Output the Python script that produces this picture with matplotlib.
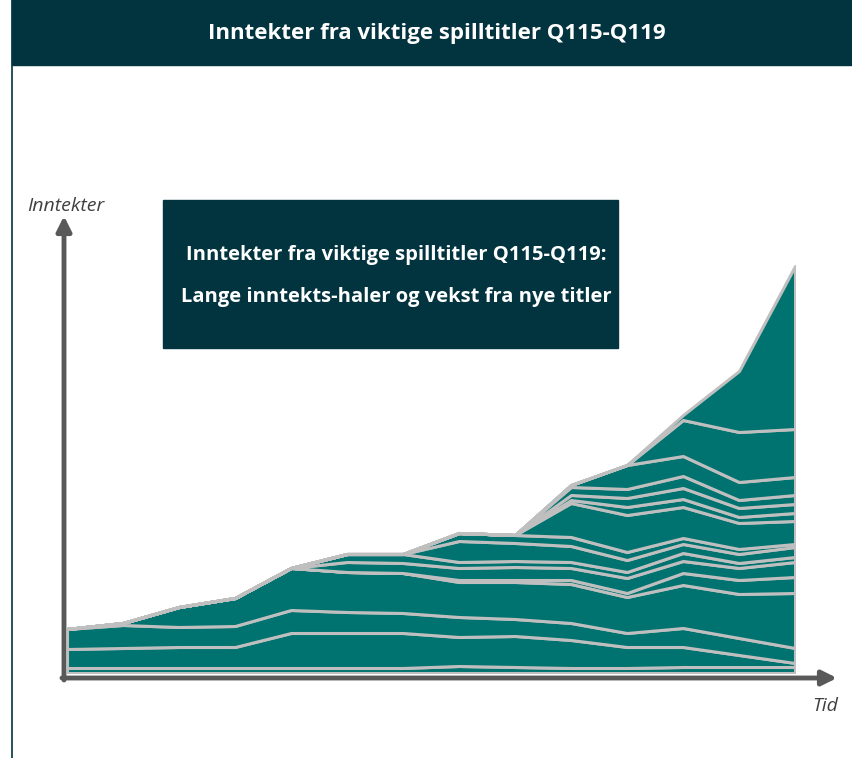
import matplotlib
matplotlib.use("Agg")
import matplotlib.pyplot as plt
from matplotlib.patches import Rectangle

plt.rcParams['font.family'] = ['Open Sans', 'DejaVu Sans']

# Quarters Q1-15 .. Q2-18 (14 points), revenue per title, bottom to top
quarters = list(range(14))
title_01 = [5, 5, 5, 5, 5, 5, 5, 7, 6, 5, 5, 6, 6, 6]
title_02 = [19, 20, 21, 21, 35, 35, 35, 29, 31, 28, 21, 20, 12, 4]
title_03 = [20, 23, 20, 21, 23, 21, 20, 20, 17, 17, 14, 19, 17, 15]
title_04 = [0, 2, 20, 28, 42, 40, 40, 35, 37, 39, 36, 43, 44, 55]
title_05 = [0, 0, 0, 0, 0, 0, 0, 2, 2, 4, 4, 12, 14, 16]
title_06 = [0, 0, 0, 0, 0, 10, 10, 12, 13, 12, 15, 12, 12, 15]
title_07 = [0, 0, 0, 0, 0, 8, 9, 6, 6, 6, 6, 8, 5, 5]
title_08 = [0, 0, 0, 0, 0, 0, 0, 21, 18, 16, 12, 9, 9, 10]
title_09 = [0, 0, 0, 0, 0, 0, 0, 8, 8, 9, 8, 6, 5, 3]
title_10 = [0, 0, 0, 0, 0, 0, 0, 0, 0, 34, 37, 31, 26, 23]
title_11 = [0, 0, 0, 0, 0, 0, 0, 0, 0, 3, 8, 8, 6, 8]
title_12 = [0, 0, 0, 0, 0, 0, 0, 0, 0, 5, 9, 11, 9, 9]
title_13 = [0, 0, 0, 0, 0, 0, 0, 0, 0, 8, 9, 12, 8, 9]
title_14 = [0, 0, 0, 0, 0, 0, 0, 0, 0, 2, 24, 20, 18, 18]
title_15 = [0, 0, 0, 0, 0, 0, 0, 0, 0, 0, 0, 36, 50, 48]
title_16 = [0, 0, 0, 0, 0, 0, 0, 0, 0, 0, 0, 5, 61, 163]

titles = [title_01, title_02, title_03, title_04, title_05, title_06, title_07, title_08,
          title_09, title_10, title_11, title_12, title_13, title_14, title_15, title_16]

header = "Inntekter fra viktige spilltitler Q115-Q119"
box_lines = ["Inntekter fra viktige spilltitler Q115-Q119:",
             "Lange inntekts-haler og vekst fra nye titler"]

W, H = 852, 758
dark = '#02343f'
teal = '#007370'
edge = '#bfbfbf'
axis_gray = '#595959'

fig = plt.figure(figsize=(W / 100, H / 100), dpi=100)

# overlay in pixel coordinates for header, box and arrows
ov = fig.add_axes([0, 0, 1, 1])
ov.set_xlim(0, W)
ov.set_ylim(H, 0)
ov.axis('off')

ov.add_patch(Rectangle((12, 0), W - 12, 65, color=dark, zorder=1))
ov.plot([12, 12], [0, H], color=dark, lw=1.2, zorder=1)
ov.text(437, 34, header, color='white', fontsize=16, fontweight='bold',
        ha='center', va='center')

# data area
ax = fig.add_axes([67 / W, 1 - 673 / H, (795 - 67) / W, (673 - 185) / H])
ax.stackplot(quarters, *titles, colors=[teal] * len(titles),
             edgecolor=edge, linewidth=2.2)
ax.set_xlim(0, 13)
ax.set_ylim(0, 488)
ax.axis('off')

# axes arrows on top
ov2 = fig.add_axes([0, 0, 1, 1], zorder=5)
ov2.set_xlim(0, W)
ov2.set_ylim(H, 0)
ov2.axis('off')
ov2.patch.set_alpha(0)
ov2.annotate('', xy=(837, 678), xytext=(62, 678),
             arrowprops=dict(arrowstyle='-|>', color=axis_gray, lw=3.5,
                             mutation_scale=22, shrinkA=0, shrinkB=0))
ov2.annotate('', xy=(64, 216), xytext=(64, 680),
             arrowprops=dict(arrowstyle='-|>', color=axis_gray, lw=3.5,
                             mutation_scale=22, shrinkA=0, shrinkB=0))
ov2.text(27, 206, 'Inntekter', fontsize=14, style='italic', color='#404040',
         ha='left', va='center')
ov2.text(825, 706, 'Tid', fontsize=14, style='italic', color='#404040',
         ha='center', va='center')

ov2.add_patch(Rectangle((163, 200), 455, 148, color=dark, zorder=2))
ov2.text(396, 255, box_lines[0], color='white', fontsize=14.5, fontweight='bold',
         ha='center', va='center', zorder=3)
ov2.text(396, 297, box_lines[1], color='white', fontsize=14.5, fontweight='bold',
         ha='center', va='center', zorder=3)

fig.savefig('out.png', dpi=100)
